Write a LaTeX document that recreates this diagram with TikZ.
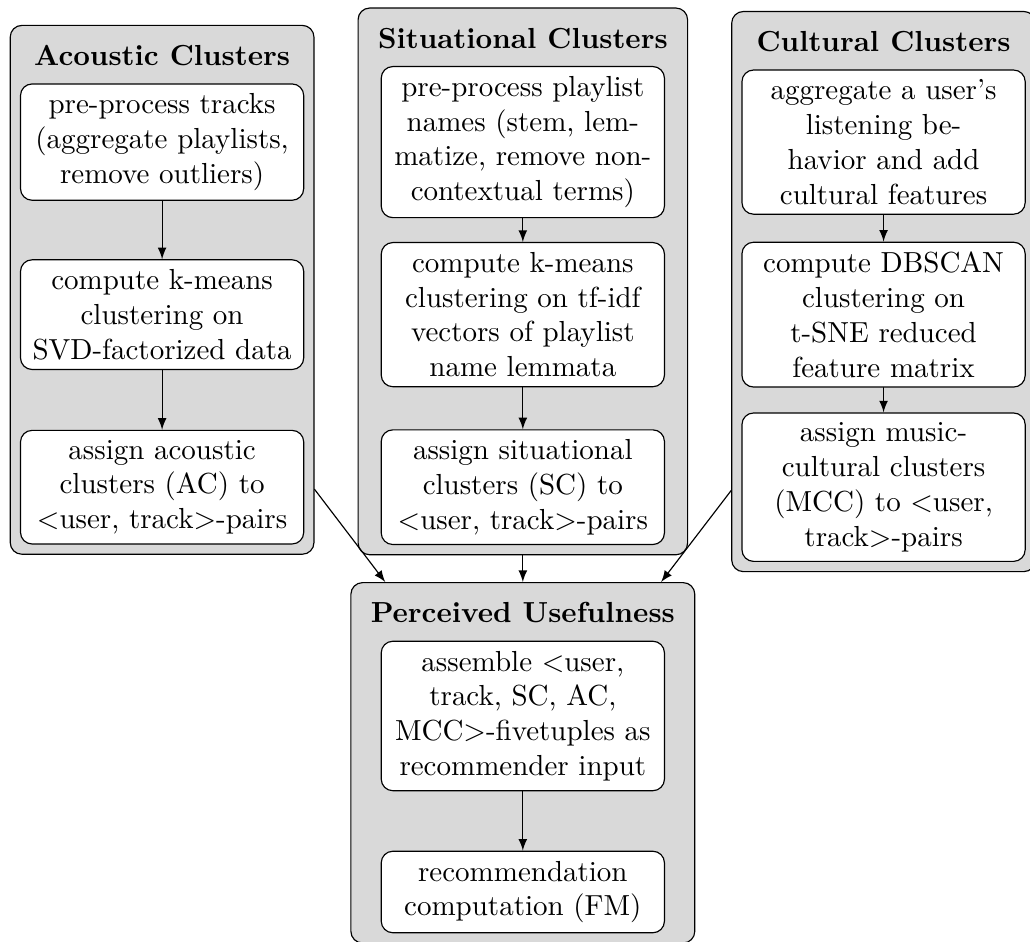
\documentclass[tikz,border=0pt]{standalone}
\usepackage{tikz}
\usetikzlibrary{positioning}
\usetikzlibrary{arrows}
\usetikzlibrary{fit}
\usetikzlibrary{backgrounds}

\begin{document}
\begin{tikzpicture}[line cap=round,line join=round,x=1pt,y=1pt,>=latex,
	task/.style={draw, rounded corners, fill=white, text width=91pt, align=center},
	heading/.style={font=\bfseries},
	cluster/.style={draw, rounded corners, fill=black!15}]
	\useasboundingbox (0,0) rectangle (355.2,-324.8);
	\node[task] (a1) at (55.9,-49) {pre-process tracks\\(aggregate playlists,\\remove outliers)};
	\node[task] (a2) at (55.9,-108.5) {compute k-means\\clustering on\\SVD-factorized data};
	\node[task] (a3) at (55.9,-168) {assign acoustic\\clusters (AC) to\\<user, track>-pairs};
	\node[heading, above=2.5pt of a1] (at) {Acoustic Clusters};
	\node[task] (s1) at (180.3,-49) {pre-process playlist\\names (stem, lem-\\matize, remove non-\\contextual terms)};
	\node[task] (s2) at (180.3,-108.5) {compute k-means\\clustering on tf-idf\\vectors of playlist\\name lemmata};
	\node[task] (s3) at (180.3,-168) {assign situational\\clusters (SC) to\\<user, track>-pairs};
	\node[heading, above=2.5pt of s1] (st) {Situational Clusters};
	\node[task] (c1) at (304.7,-49) {aggregate a user's\\listening be-\\havior and add\\cultural features};
	\node[task] (c2) at (304.7,-108.5) {compute DBSCAN\\clustering on\\t-SNE reduced\\feature matrix};
	\node[task] (c3) at (304.7,-168) {assign music-\\cultural clusters\\(MCC) to <user,\\track>-pairs};
	\node[heading, above=2.5pt of c1] (ct) {Cultural Clusters};
	\node[task] (p1) at (180.3,-246.9) {assemble <user,\\track, SC, AC,\\MCC>-fivetuples as\\recommender input};
	\node[task] (p2) at (180.3,-307.6) {recommendation\\computation (FM)};
	\node[heading, above=2.5pt of p1] (pt) {Perceived Usefulness};
	\begin{scope}[on background layer]
		\node[cluster, fit=(at)(a1)(a2)(a3)] (acoustic) {};
		\node[cluster, fit=(st)(s1)(s2)(s3)] (situational) {};
		\node[cluster, fit=(ct)(c1)(c2)(c3)] (cultural) {};
		\node[cluster, fit=(pt)(p1)(p2)] (perceived) {};
	\end{scope}
	\draw[->] (a1) -- (a2);
	\draw[->] (a2) -- (a3);
	\draw[->] (s1) -- (s2);
	\draw[->] (s2) -- (s3);
	\draw[->] (c1) -- (c2);
	\draw[->] (c2) -- (c3);
	\draw[->] (p1) -- (p2);
	\draw[->] (acoustic) -- (perceived);
	\draw[->] (situational) -- (perceived);
	\draw[->] (cultural) -- (perceived);
\end{tikzpicture}
\end{document}
